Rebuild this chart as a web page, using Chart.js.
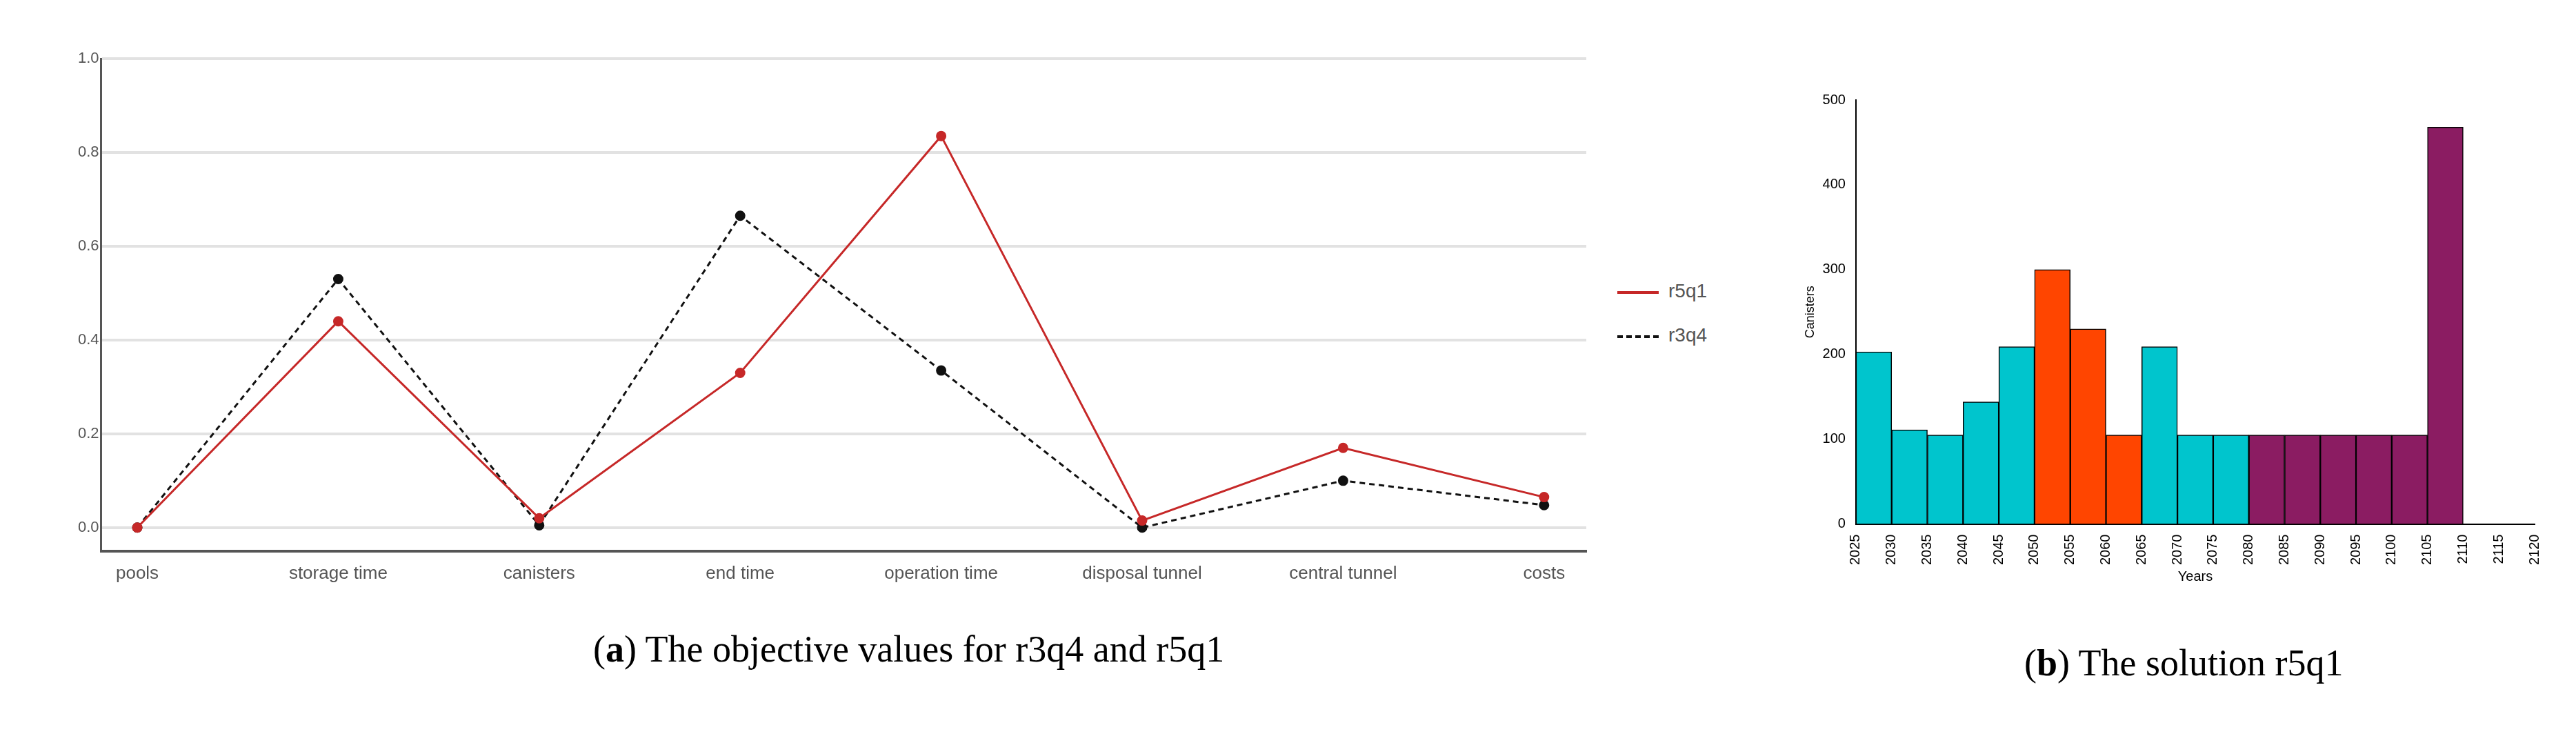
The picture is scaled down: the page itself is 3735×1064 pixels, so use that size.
<!DOCTYPE html>
<html>
<head>
<meta charset="UTF-8" />
<script src="https://cdn.jsdelivr.net/npm/chart.js"></script>
<style>
  body { margin: 0; background: #fff; width: 3735px; height: 1064px; position: relative; overflow: hidden; }
  .box { position: absolute; }
  .cap { position: absolute; font-family: "Liberation Serif", serif; font-size: 54px; color: #000; white-space: nowrap; }
  .leg { position: absolute; left: 2345px; font-family: Arial, "Liberation Sans", sans-serif; font-size: 28px; color: #555; }
  .leg span.l { display: inline-block; width: 60px; vertical-align: middle; margin-right: 14px; position: relative; }
</style>
</head>
<body>
<div class="box" style="left:0;top:0;width:2330px;height:880px"><canvas id="lineChart"></canvas></div>
<div class="leg" style="top:406px"><span class="l" style="border-top:4px solid #c62828"></span>r5q1</div>
<div class="leg" style="top:470px"><span class="l" style="border-top:4px dashed #111"></span>r3q4</div>
<div class="cap" style="left:860px;top:910px">(<b>a</b>) The objective values for r3q4 and r5q1</div>

<div class="box" style="left:2530px;top:110px;width:1205px;height:740px"><canvas id="histChart"></canvas></div>
<div class="cap" style="left:2935px;top:930px">(<b>b</b>) The solution r5q1</div>

<script>
const objectives = ["pools", "storage time", "canisters", "end time", "operation time", "disposal tunnel", "central tunnel", "costs"];
const r5q1 = [0, 0.44, 0.02, 0.33, 0.835, 0.015, 0.17, 0.065];
const r3q4 = [0, 0.53, 0.005, 0.665, 0.335, 0.0, 0.1, 0.048];

const binStarts = [2025, 2030, 2035, 2040, 2045, 2050, 2055, 2060, 2065, 2070, 2075, 2080, 2085, 2090, 2095, 2100, 2105];
const canisters = [203, 111, 105, 144, 209, 300, 230, 105, 209, 105, 105, 105, 105, 105, 105, 105, 468];
const phase = ["a","a","a","a","a","b","b","b","a","a","a","c","c","c","c","c","c"];
const phaseColors = { a: "#00C5CD", b: "#FF4500", c: "#8B1C62" };

Chart.defaults.devicePixelRatio = 1;
Chart.defaults.animation = false;

const labelFont = { family: "'Liberation Sans Narrow', Arial, sans-serif", size: 26 };

new Chart(document.getElementById("lineChart"), {
  type: "line",
  data: {
    datasets: [
      { label: "r5q1", data: r5q1.map((v, i) => ({ x: i, y: v })), borderColor: "#c62828", backgroundColor: "#c62828",
        borderWidth: 3, pointRadius: 6, tension: 0 },
      { label: "r3q4", data: r3q4.map((v, i) => ({ x: i, y: v })), borderColor: "#111", backgroundColor: "#111",
        borderWidth: 3, borderDash: [8, 6], pointRadius: 6, tension: 0 }
    ]
  },
  options: {
    responsive: true, maintainAspectRatio: false,
    layout: { padding: { top: 85, right: 30, bottom: 30, left: 110 } },
    plugins: { legend: { display: false }, tooltip: { enabled: false } },
    scales: {
      x: {
        type: "linear", min: -0.18, max: 7.21,
        afterBuildTicks: ax => { ax.ticks = objectives.map((_, i) => ({ value: i })); },
        ticks: { callback: v => objectives[v], color: "#555", font: labelFont, autoSkip: false, maxRotation: 0 },
        grid: { display: false, drawTicks: true, tickLength: 14, color: "#666" },
        border: { color: "#555", width: 4 }
      },
      y: {
        min: -0.05, max: 1.0,
        afterBuildTicks: ax => { ax.ticks = [0, 0.2, 0.4, 0.6, 0.8, 1.0].map(v => ({ value: v })); },
        ticks: { callback: v => v.toFixed(1), color: "#555", font: { ...labelFont, size: 22 } },
        grid: { color: "#e2e2e2", lineWidth: 4, drawTicks: false },
        border: { color: "#555", width: 3 }
      }
    }
  }
});

const smallFont = { family: "Arial, 'Liberation Sans', sans-serif", size: 20 };

new Chart(document.getElementById("histChart"), {
  type: "bar",
  data: {
    datasets: [{
      data: binStarts.map((s, i) => ({ x: s + 2.5, y: canisters[i] })),
      backgroundColor: phase.map(p => phaseColors[p]),
      borderColor: "#000", borderWidth: 1.5,
      barPercentage: 1, categoryPercentage: 1
    }]
  },
  options: {
    responsive: true, maintainAspectRatio: false,
    layout: { padding: { top: 35, right: 60, bottom: 0, left: 80 } },
    plugins: { legend: { display: false }, tooltip: { enabled: false } },
    scales: {
      x: {
        type: "linear", min: 2025, max: 2120, offset: false,
        ticks: { stepSize: 5, callback: v => String(v), maxRotation: 90, minRotation: 90, color: "#000", font: smallFont, autoSkip: false },
        grid: { display: false, drawTicks: true, tickLength: 12, color: "#000" },
        border: { color: "#000", width: 2 },
        title: { display: true, text: "Years", color: "#000", font: smallFont, padding: 2 }
      },
      y: {
        min: 0, max: 500,
        ticks: { stepSize: 100, color: "#000", font: smallFont },
        grid: { display: false, drawTicks: true, tickLength: 12, color: "#000" },
        border: { color: "#000", width: 2 },
        title: { display: true, text: "Canisters", color: "#000", font: { ...smallFont, size: 18 } }
      }
    }
  }
});
</script>
</body>
</html>
